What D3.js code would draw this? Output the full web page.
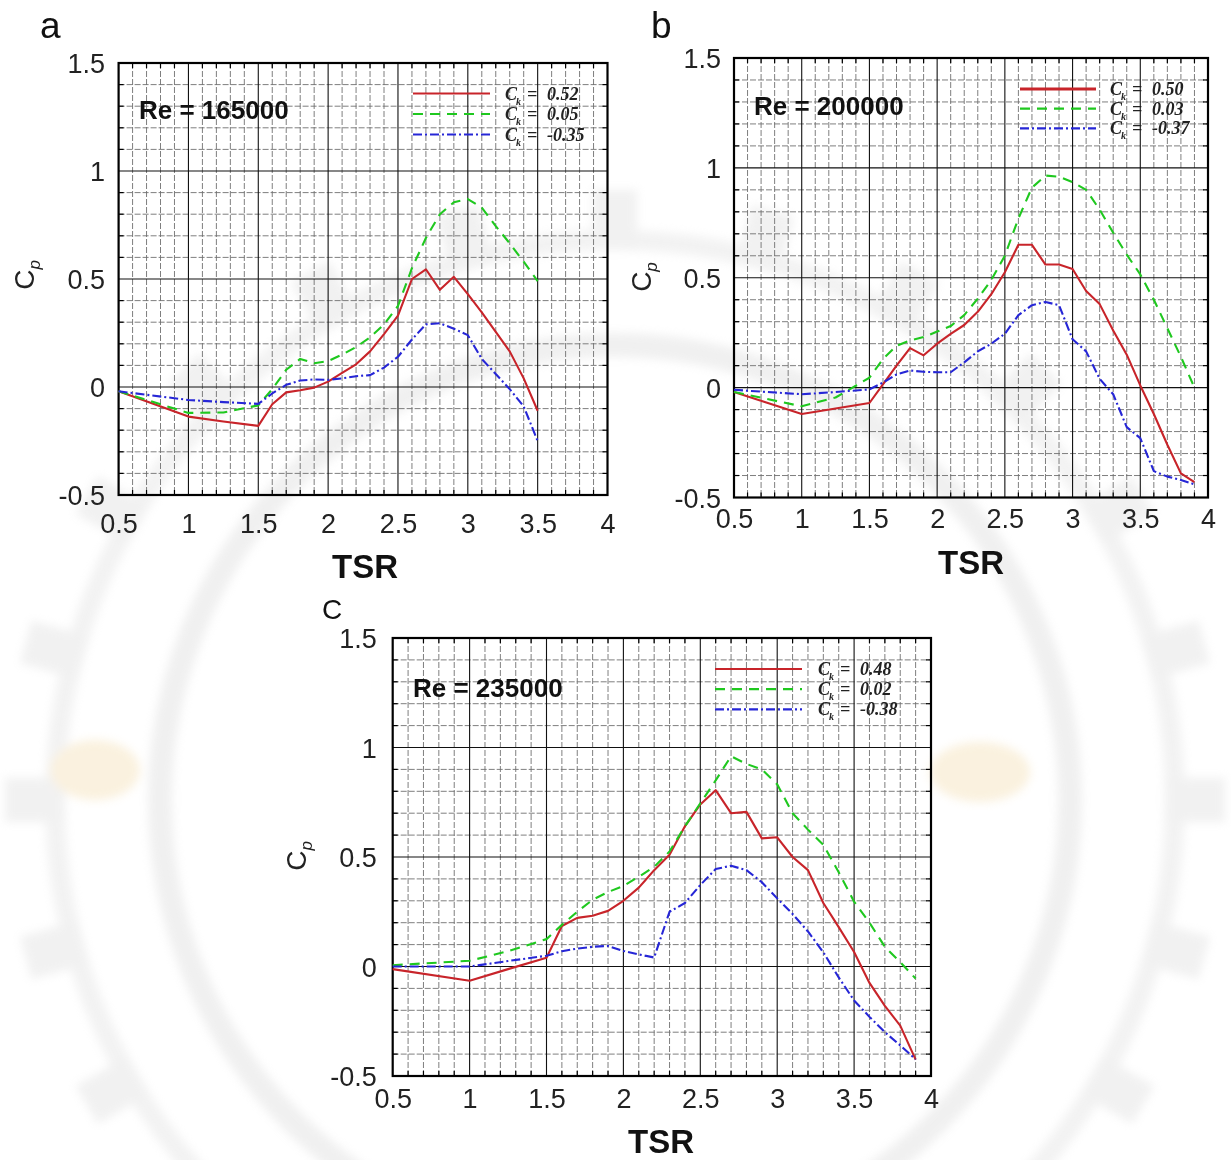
<!DOCTYPE html>
<html>
<head>
<meta charset="utf-8">
<script src="https://cdn.jsdelivr.net/npm/d3@7"></script>
<style>
  body { margin: 0; background: #fff; }
  svg { display: block; }
</style>
</head>
<body>
<svg id="fig" width="1231" height="1160"></svg>
<script>
// Power coefficient Cp against tip speed ratio (TSR) for three Reynolds numbers,
// each panel with three values of the coefficient Ck.

const tsrA = [0.5, 1.0, 1.25, 1.5, 1.6, 1.7, 1.8, 1.9, 2.0, 2.1, 2.2, 2.3, 2.4, 2.5,
              2.6, 2.7, 2.8, 2.9, 3.0, 3.1, 3.2, 3.3, 3.4, 3.5];
const tsrBC = [0.5, 1.0, 1.25, 1.5, 1.6, 1.7, 1.8, 1.9, 2.0, 2.1, 2.2, 2.3, 2.4, 2.5,
               2.6, 2.7, 2.8, 2.9, 3.0, 3.1, 3.2, 3.3, 3.4, 3.5, 3.6, 3.7, 3.8, 3.9];

// (a) Re = 165000
const cpA_red   = [-0.02, -0.137, -0.16, -0.18, -0.08, -0.025, -0.015, -0.003, 0.025, 0.065, 0.105, 0.165,
                   0.245, 0.33, 0.5, 0.545, 0.45, 0.51, 0.43, 0.345, 0.255, 0.165, 0.04, -0.11];
const cpA_green = [-0.02, -0.12, -0.118, -0.085, -0.01, 0.08, 0.13, 0.11, 0.12, 0.15, 0.185, 0.23,
                   0.29, 0.375, 0.55, 0.69, 0.8, 0.855, 0.87, 0.83, 0.745, 0.665, 0.58, 0.49];
const cpA_blue  = [-0.02, -0.06, -0.07, -0.078, -0.03, 0.01, 0.03, 0.035, 0.033, 0.04, 0.05, 0.055,
                   0.09, 0.14, 0.22, 0.29, 0.295, 0.27, 0.24, 0.13, 0.06, -0.01, -0.09, -0.25];

// (b) Re = 200000
const cpB_red   = [-0.02, -0.12, -0.095, -0.07, 0.015, 0.1, 0.18, 0.147, 0.2, 0.245, 0.285, 0.345, 0.425, 0.525,
                   0.65, 0.65, 0.56, 0.56, 0.54, 0.44, 0.38, 0.26, 0.15, 0.01, -0.12, -0.26, -0.39, -0.43];
const cpB_green = [-0.02, -0.085, -0.045, 0.045, 0.13, 0.19, 0.215, 0.23, 0.255, 0.28, 0.33, 0.405, 0.49, 0.6,
                   0.77, 0.91, 0.965, 0.96, 0.935, 0.9, 0.81, 0.705, 0.605, 0.515, 0.4, 0.27, 0.14, 0.0];
const cpB_blue  = [-0.01, -0.03, -0.02, -0.008, 0.023, 0.06, 0.078, 0.072, 0.07, 0.07, 0.115, 0.165, 0.2, 0.245,
                   0.33, 0.375, 0.39, 0.375, 0.22, 0.165, 0.04, -0.03, -0.18, -0.23, -0.38, -0.405, -0.42, -0.44];

// (c) Re = 235000
const cpC_red   = [-0.012, -0.065, -0.012, 0.04, 0.185, 0.222, 0.232, 0.254, 0.3, 0.36, 0.44, 0.51, 0.64, 0.74,
                   0.805, 0.7, 0.706, 0.585, 0.59, 0.5, 0.44, 0.29, 0.18, 0.066, -0.075, -0.18, -0.27, -0.425];
const cpC_green = [0.006, 0.026, 0.07, 0.125, 0.19, 0.25, 0.305, 0.34, 0.368, 0.41, 0.455, 0.525, 0.64, 0.745,
                   0.85, 0.96, 0.925, 0.9, 0.832, 0.7, 0.625, 0.556, 0.43, 0.296, 0.2, 0.09, 0.02, -0.055];
const cpC_blue  = [0.0, 0.0, 0.025, 0.049, 0.07, 0.082, 0.09, 0.094, 0.071, 0.055, 0.041, 0.25, 0.29, 0.372,
                   0.445, 0.46, 0.44, 0.385, 0.311, 0.24, 0.16, 0.065, -0.05, -0.155, -0.23, -0.3, -0.36, -0.424];

const ckA = ["0.52", "0.05", "-0.35"];
const ckB = ["0.50", "0.03", "-0.37"];
const ckC = ["0.48", "0.02", "-0.38"];
const reLabels = ["Re = 165000", "Re = 200000", "Re = 235000"];
const panelLetters = ["a", "b", "C"];
const xTickValues = [0.5, 1, 1.5, 2, 2.5, 3, 3.5, 4];
const yTickValues = [-0.5, 0, 0.5, 1, 1.5];

// line styles for the three Ck series
const seriesStyle = [
  { color: "#c8242a", dash: null },
  { color: "#1fc81f", dash: "10,7" },
  { color: "#2626d6", dash: "9,3,2,3" }
];

// panel placement on the page
const layout = [
  { left: 118.6, right: 607.5, top: 63, bottom: 495, xLabBase: 38, yLabGap: 13.5,
    letter: [40, 38], re: [139, 119], cp: [24, 275], tsrLab: [365, 578],
    leg: { x1: 413, x2: 490, y: 93.5, dy: 20.5, tx: 505, w0: 2 } },
  { left: 734, right: 1208, top: 58, bottom: 497.5, xLabBase: 30, yLabGap: 13,
    letter: [651, 38], re: [754, 115], cp: [641, 277], tsrLab: [971, 574],
    leg: { x1: 1020, x2: 1096, y: 89, dy: 19.7, tx: 1110, w0: 3 } },
  { left: 392.7, right: 931, top: 638, bottom: 1076, xLabBase: 32, yLabGap: 16,
    letter: [322, 619], re: [413, 697], cp: [296, 856], tsrLab: [661, 1153],
    leg: { x1: 715, x2: 802, y: 669, dy: 20.2, tx: 818, w0: 2 } }
];

const panels = [
  { tsr: tsrA,  series: [cpA_red, cpA_green, cpA_blue], ck: ckA },
  { tsr: tsrBC, series: [cpB_red, cpB_green, cpB_blue], ck: ckB },
  { tsr: tsrBC, series: [cpC_red, cpC_green, cpC_blue], ck: ckC }
];

const svg = d3.select("#fig");
const sans = "'Liberation Sans', Arial, Helvetica, sans-serif";
const serif = "'Liberation Serif', 'Times New Roman', serif";

// faint emblem in the page background
const defs = svg.append("defs");
defs.append("filter").attr("id", "soft").append("feGaussianBlur").attr("stdDeviation", 5);
const bg = svg.append("g").attr("filter", "url(#soft)").attr("opacity", 0.32);
const cx = 615, cy = 800;
bg.append("circle").attr("cx", cx).attr("cy", cy).attr("r", 455)
  .attr("fill", "none").attr("stroke", "#d0d0d0").attr("stroke-width", 24);
bg.append("circle").attr("cx", cx).attr("cy", cy).attr("r", 560)
  .attr("fill", "none").attr("stroke", "#d8d8d8").attr("stroke-width", 20);
d3.range(0, 360, 15).forEach(a => {
  bg.append("rect").attr("x", -22).attr("y", -610).attr("width", 44).attr("height", 60)
    .attr("fill", "#d4d4d4")
    .attr("transform", `translate(${cx},${cy}) rotate(${a})`);
});
bg.append("ellipse").attr("cx", 95).attr("cy", 770).attr("rx", 45).attr("ry", 30).attr("fill", "#f0d49a");
bg.append("ellipse").attr("cx", 980).attr("cy", 772).attr("rx", 50).attr("ry", 30).attr("fill", "#f0d49a");

panels.forEach((pd, i) => {
  const L = layout[i];
  const x = d3.scaleLinear().domain([0.5, 4]).range([L.left, L.right]);
  const y = d3.scaleLinear().domain([-0.5, 1.5]).range([L.bottom, L.top]);
  const g = svg.append("g");

  // minor grid every 0.1
  const minorX = d3.range(6, 40).filter(k => k % 5 !== 0).map(k => k / 10);
  const minorY = d3.range(-4, 15).filter(k => k % 5 !== 0).map(k => k / 10);
  const grid = g.append("g").attr("stroke", "#707070").attr("stroke-width", 0.9)
    .attr("stroke-dasharray", "6,2").attr("fill", "none");
  grid.selectAll("line.mx").data(minorX).join("line")
    .attr("x1", d => x(d)).attr("x2", d => x(d)).attr("y1", L.top).attr("y2", L.bottom);
  grid.selectAll("line.my").data(minorY).join("line")
    .attr("class", "my")
    .attr("y1", d => y(d)).attr("y2", d => y(d)).attr("x1", L.left).attr("x2", L.right);

  // small inward ticks on the frame at minor positions
  const tk = g.append("g").attr("stroke", "#000").attr("stroke-width", 1.2);
  minorX.forEach(v => {
    tk.append("line").attr("x1", x(v)).attr("x2", x(v)).attr("y1", L.bottom).attr("y2", L.bottom - 5);
    tk.append("line").attr("x1", x(v)).attr("x2", x(v)).attr("y1", L.top).attr("y2", L.top + 5);
  });
  minorY.forEach(v => {
    tk.append("line").attr("y1", y(v)).attr("y2", y(v)).attr("x1", L.left).attr("x2", L.left + 5);
    tk.append("line").attr("y1", y(v)).attr("y2", y(v)).attr("x1", L.right).attr("x2", L.right - 5);
  });

  // major grid every 0.5
  const major = g.append("g").attr("stroke", "#111").attr("stroke-width", 1.1);
  major.selectAll("line.vx").data(xTickValues.slice(1, -1)).join("line")
    .attr("x1", d => x(d)).attr("x2", d => x(d)).attr("y1", L.top).attr("y2", L.bottom);
  major.selectAll("line.hy").data(yTickValues.slice(1, -1)).join("line")
    .attr("class", "hy")
    .attr("y1", d => y(d)).attr("y2", d => y(d)).attr("x1", L.left).attr("x2", L.right);

  // frame
  g.append("rect").attr("x", L.left).attr("y", L.top)
    .attr("width", L.right - L.left).attr("height", L.bottom - L.top)
    .attr("fill", "none").attr("stroke", "#000").attr("stroke-width", 2.2);

  // axes (labels only)
  const fmt = d => String(d);
  const xa = g.append("g").attr("transform", `translate(0,${L.bottom})`)
    .call(d3.axisBottom(x).tickValues(xTickValues).tickFormat(fmt).tickSize(0));
  const ya = g.append("g").attr("transform", `translate(${L.left},0)`)
    .call(d3.axisLeft(y).tickValues(yTickValues).tickFormat(fmt).tickSize(0));
  [xa, ya].forEach(a => {
    a.select(".domain").remove();
    a.selectAll("text").attr("font-family", sans).attr("font-size", 27).attr("fill", "#222");
  });
  xa.selectAll("text").attr("y", L.xLabBase).attr("dy", null);
  ya.selectAll("text").attr("x", -L.yLabGap).attr("dy", "0.36em");

  // curves
  const line = d3.line().x(d => x(d[0])).y(d => y(d[1]));
  pd.series.forEach((vals, s) => {
    const pts = pd.tsr.map((t, k) => [t, vals[k]]);
    g.append("path").datum(pts).attr("d", line)
      .attr("fill", "none").attr("stroke", seriesStyle[s].color).attr("stroke-width", 2.1)
      .attr("stroke-dasharray", seriesStyle[s].dash).attr("stroke-linejoin", "round");
  });

  // legend
  const lg = L.leg;
  pd.ck.forEach((v, s) => {
    const yy = lg.y + s * lg.dy;
    g.append("line").attr("x1", lg.x1).attr("x2", lg.x2).attr("y1", yy).attr("y2", yy)
      .attr("stroke", seriesStyle[s].color).attr("stroke-width", s === 0 ? lg.w0 : 2.2)
      .attr("stroke-dasharray", seriesStyle[s].dash);
    const t = g.append("g").attr("font-family", serif).attr("font-style", "italic")
      .attr("font-weight", "bold").attr("fill", "#222");
    t.append("text").attr("x", lg.tx).attr("y", yy + 6).attr("font-size", 18).text("C");
    t.append("text").attr("x", lg.tx + 11).attr("y", yy + 11).attr("font-size", 10).text("k");
    t.append("text").attr("x", lg.tx + 22).attr("y", yy + 6).attr("font-size", 18).text("=");
    t.append("text").attr("x", lg.tx + 42).attr("y", yy + 6).attr("font-size", 18).text(v);
  });

  // Reynolds number
  g.append("text").attr("x", L.re[0]).attr("y", L.re[1])
    .attr("font-family", sans).attr("font-weight", "bold").attr("font-size", 26)
    .attr("fill", "#111").text(reLabels[i]);

  // axis titles
  g.append("text").attr("x", L.tsrLab[0]).attr("y", L.tsrLab[1]).attr("text-anchor", "middle")
    .attr("font-family", sans).attr("font-weight", "bold").attr("font-size", 33)
    .attr("fill", "#111").text("TSR");
  const cpT = g.append("text").attr("transform", `translate(${L.cp[0]},${L.cp[1]}) rotate(-90)`)
    .attr("text-anchor", "middle").attr("dy", "0.35em")
    .attr("font-family", sans).attr("font-size", 28).attr("fill", "#222");
  cpT.append("tspan").text("C");
  cpT.append("tspan").attr("font-size", 17).attr("font-style", "italic").attr("dy", 6).text("p");

  // panel letter
  g.append("text").attr("x", L.letter[0]).attr("y", L.letter[1])
    .attr("font-family", sans).attr("font-size", i === 2 ? 28 : 37).attr("fill", "#111")
    .text(panelLetters[i]);
});
</script>
</body>
</html>
